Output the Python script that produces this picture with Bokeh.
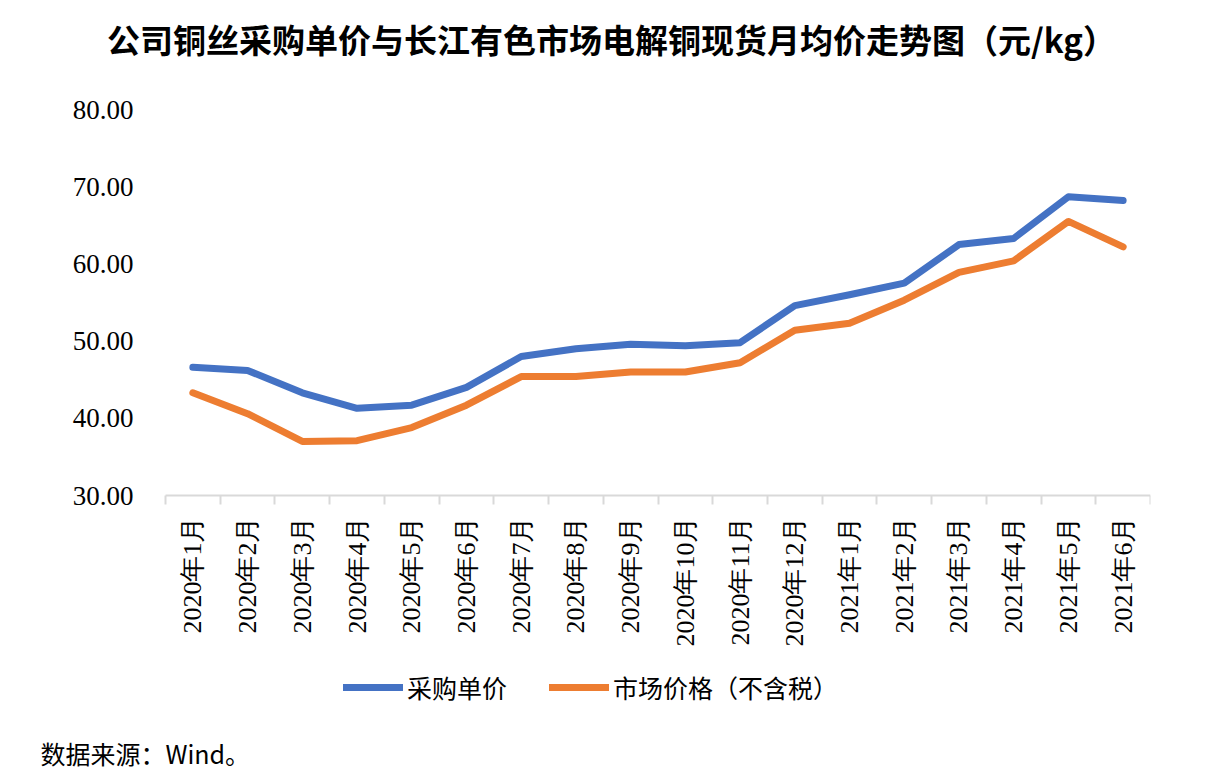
from bokeh.plotting import figure
from bokeh.models import (Range1d, FixedTicker, Legend, LegendItem, Label,
                          ColumnDataSource)
from bokeh.embed import file_html
from bokeh.resources import INLINE
import math

title_text = "公司铜丝采购单价与长江有色市场电解铜现货月均价走势图（元/kg）"
source_text = "数据来源：Wind。"
series_names = ["采购单价", "市场价格（不含税）"]
months = ["2020年1月", "2020年2月", "2020年3月", "2020年4月", "2020年5月", "2020年6月",
          "2020年7月", "2020年8月", "2020年9月", "2020年10月", "2020年11月", "2020年12月",
          "2021年1月", "2021年2月", "2021年3月", "2021年4月", "2021年5月", "2021年6月"]
purchase_price = [46.6, 46.2, 43.3, 41.3, 41.7, 44.0, 48.0, 49.0, 49.6, 49.4, 49.8, 54.6,
                  56.0, 57.5, 62.5, 63.3, 68.7, 68.2]
market_price = [43.3, 40.6, 37.0, 37.1, 38.8, 41.7, 45.4, 45.4, 46.0, 46.0, 47.2, 51.4,
                52.3, 55.3, 58.9, 60.4, 65.5, 62.2]
y_ticks = [30, 40, 50, 60, 70, 80]

CJK = "Noto Sans CJK SC"
SERIF = "Liberation Serif"

W, H = 1194, 770
FRAME_L, FRAME_R, FRAME_T, FRAME_B = 165, 1150, 109, 495   # axis box in page px
n = len(months)
cat_px = (FRAME_R - FRAME_L) / n
val_px = (FRAME_B - FRAME_T) / (y_ticks[-1] - y_ticks[0])
x_start = -FRAME_L / cat_px
y_start = y_ticks[0] - (H - FRAME_B) / val_px
y_end = y_ticks[-1] + FRAME_T / val_px

xs = [i + 0.5 for i in range(n)]
src = ColumnDataSource(dict(x=xs, a=purchase_price, b=market_price))

p = figure(width=W, height=H, output_backend="svg", toolbar_location=None, title=None,
           x_range=Range1d(x_start, n), y_range=Range1d(y_start, y_end),
           min_border_left=0, min_border_right=W - FRAME_R, min_border_top=0,
           min_border_bottom=0)
p.outline_line_color = None
p.grid.visible = False
p.background_fill_color = "white"
p.border_fill_color = "white"

r1 = p.line("x", "a", source=src, line_color="#4472C4", line_width=7, line_cap="round",
            line_join="round")
r2 = p.line("x", "b", source=src, line_color="#ED7D31", line_width=7, line_cap="round",
            line_join="round")

xa = p.xaxis[0]
xa.fixed_location = y_ticks[0]
xa.bounds = (0, n)
xa.ticker = FixedTicker(ticks=xs, minor_ticks=list(range(n + 1)))
xa.major_label_overrides = {x: m for x, m in zip(xs, months)}
xa.major_label_orientation = math.pi / 2
xa.major_tick_line_color = None
xa.minor_tick_line_color = "#D9D9D9"
xa.minor_tick_line_width = 2
xa.minor_tick_out = 9
xa.minor_tick_in = 0
xa.axis_line_color = "#D9D9D9"
xa.axis_line_width = 2
xa.major_label_text_font = SERIF
xa.major_label_text_font_size = "26px"
xa.major_label_text_color = "black"
xa.major_label_standoff = 12

ya = p.yaxis[0]
ya.fixed_location = 0
ya.bounds = (y_ticks[0], y_ticks[-1])
ya.ticker = FixedTicker(ticks=y_ticks, minor_ticks=[])
ya.major_label_overrides = {t: f"{t:.2f}" for t in y_ticks}
ya.axis_line_color = None
ya.major_tick_line_color = None
ya.minor_tick_line_color = None
ya.major_label_text_font = SERIF
ya.major_label_text_font_size = "27px"
ya.major_label_text_color = "black"
ya.major_label_standoff = 26

legend = Legend(items=[LegendItem(label=series_names[0], renderers=[r1]),
                       LegendItem(label=series_names[1], renderers=[r2])],
                orientation="horizontal", location=(343, 65),
                padding=0, margin=0, spacing=42, glyph_width=60, glyph_height=24,
                label_standoff=4, label_text_font=CJK, label_text_font_size="25px",
                label_text_color="black", border_line_color=None,
                background_fill_alpha=0)
p.add_layout(legend, "center")

title = Label(x=611, y=H - 38, x_units="screen", y_units="screen", text=title_text,
              text_font=CJK, text_font_size="33px", text_font_style="bold",
              text_color="black", text_align="center", text_baseline="middle")
p.add_layout(title)

footer = Label(x=40, y=18, x_units="screen", y_units="screen", text=source_text,
               text_font=CJK, text_font_size="25px", text_color="black",
               text_baseline="middle")
p.add_layout(footer)

open("out.html", "w").write(file_html(p, INLINE))
